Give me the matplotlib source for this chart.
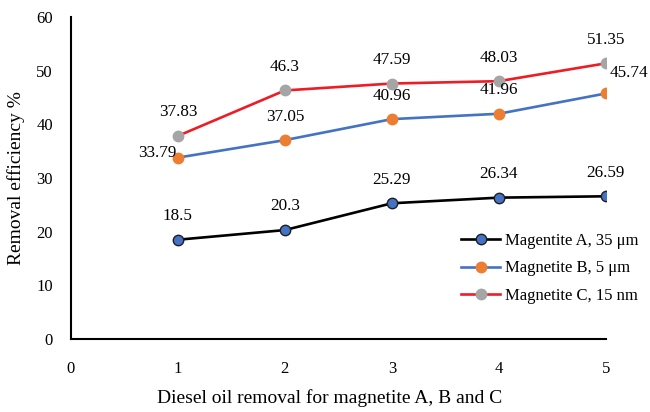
import numpy as np
import matplotlib.pyplot as plt

plt.rcParams['font.family'] = ['Liberation Serif', 'DejaVu Serif']

# removal efficiency (%) per run
runs = [1, 2, 3, 4, 5]
mag_a = [18.5, 20.3, 25.29, 26.34, 26.59]
mag_b = [33.79, 37.05, 40.96, 41.96, 45.74]
mag_c = [37.83, 46.3, 47.59, 48.03, 51.35]
labels = ["Magentite A, 35 \u03bcm", "Magnetite B, 5 \u03bcm", "Magnetite C, 15 nm"]

fig = plt.figure(figsize=(6.5, 4.12), dpi=100)
ax = fig.add_axes([0.109, 0.177, 0.823, 0.782])

ax.plot(runs, mag_a, '-o', color='black', lw=1.9, ms=7.5,
        mfc='#4472C4', mec='#1F1F1F', mew=1.0, label=labels[0], zorder=3)
ax.plot(runs, mag_b, '-o', color='#4472C4', lw=1.9, ms=7.5,
        mfc='#ED7D31', mec='#ED7D31', label=labels[1], zorder=3)
ax.plot(runs, mag_c, '-o', color='#EE1C25', lw=1.9, ms=7.5,
        mfc='#A5A5A5', mec='#A5A5A5', label=labels[2], zorder=3)

# value labels
for series in (mag_a, mag_b, mag_c):
    for i, (x, y) in enumerate(zip(runs, series)):
        off, ha = (0, 17), 'center'
        if series is mag_b and i == 0:
            off, ha = (-1, 3), 'right'
        elif series is mag_b and i == 4:
            off, ha = (17, 15), 'center'
        ax.annotate(f"{y:g}", (x, y), xytext=off, textcoords='offset points',
                    ha=ha, va='center', fontsize=12.3)

ax.set_xlim(0, 5)
ax.set_ylim(0, 60)
ax.set_xticks(range(0, 6))
ax.set_yticks(range(0, 61, 10))
ax.tick_params(length=0, labelsize=12)
ax.tick_params(axis='x', pad=16)
ax.tick_params(axis='y', pad=13)
for s in ('top', 'right'):
    ax.spines[s].set_visible(False)
for s in ('left', 'bottom'):
    ax.spines[s].set_linewidth(1.5)

ax.set_ylabel("Removal efficiency %", fontsize=14)
ax.set_xlabel("Diesel oil removal for magnetite A, B and C", fontsize=14)
ax.yaxis.set_label_coords(-0.086, 0.5)
ax.xaxis.set_label_coords(0.484, -0.155)

ax.legend(loc='upper left', bbox_to_anchor=(0.73, 0.33), frameon=False,
          fontsize=12, handlelength=2.3, handletextpad=0.3, labelspacing=0.7,
          borderpad=0, borderaxespad=0)

plt.savefig("out.png", dpi=100)
